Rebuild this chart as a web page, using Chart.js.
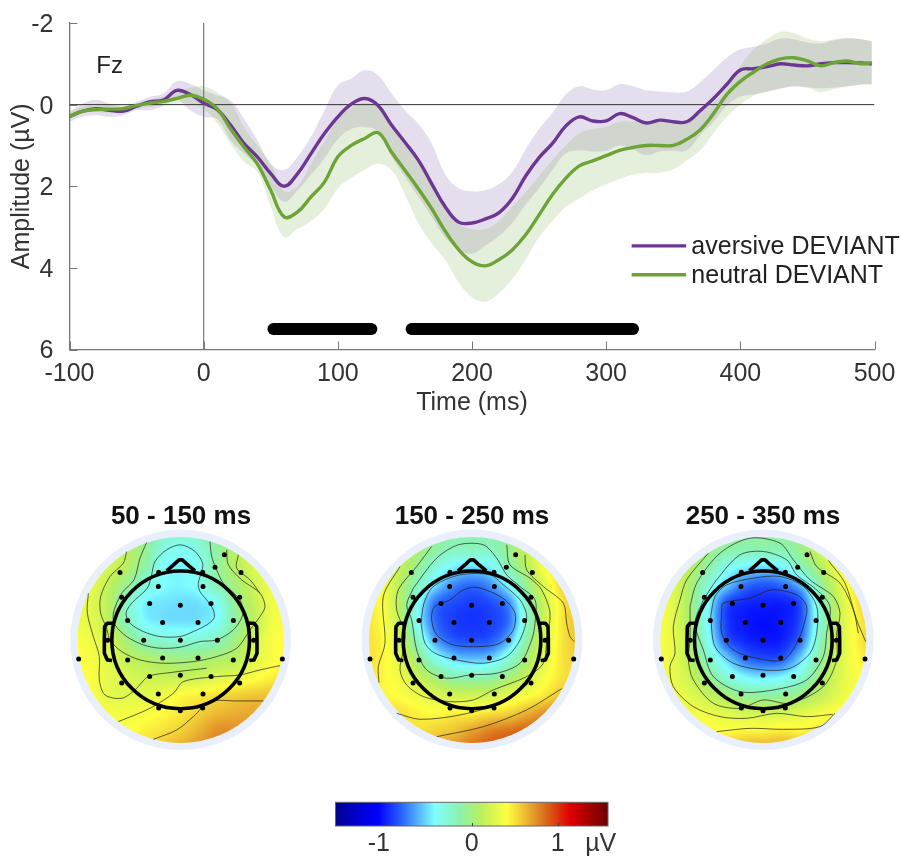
<!DOCTYPE html>
<html lang="en">
<head>
  <meta charset="UTF-8">
  <title>Fz deviant ERP</title>
  <script src="https://cdn.jsdelivr.net/npm/chart.js"></script>
  <style>
    html, body { margin: 0; padding: 0; background: #fff; }
    #page { position: relative; width: 902px; height: 856px; overflow: hidden; }
    canvas { position: absolute; }
  </style>
</head>
<body>
<div id="page">
  <canvas id="erpChart" width="902" height="418" style="left:0;top:0"></canvas>
  <canvas id="topo1" width="222" height="253" style="left:70px;top:498px"></canvas>
  <canvas id="topo2" width="222" height="253" style="left:361px;top:498px"></canvas>
  <canvas id="topo3" width="222" height="253" style="left:652px;top:498px"></canvas>
  <canvas id="colorbar" width="340" height="61" style="left:300px;top:795px"></canvas>
</div>

<script>
  // ---------- ERP data (uV) ----------
  var times = [-100,-90,-80,-70,-60,-50,-40,-30,-20,-10,0,
    10,20,30,40,50,60,70,80,90,100,
    110,120,130,140,150,160,170,180,190,200,
    210,220,230,240,250,260,270,280,290,300,
    310,320,330,340,350,360,370,380,390,400,
    410,420,430,440,450,460,470,480,490,498];

  var aversiveMean = [.29,.16,.10,.14,.16,.04,-.07,-.11,-.35,-.25,-.04,
    .12,.5,.95,1.28,1.69,2.0,1.69,1.2,.71,.3,
    -.01,-.15,.02,.5,.92,1.36,1.94,2.5,2.88,2.9,
    2.8,2.65,2.3,1.75,1.3,.95,.52,.3,.4,.4,
    .22,.32,.45,.38,.42,.42,.15,-.15,-.5,-.85,
    -.88,-.93,-1.0,-.97,-.95,-1.0,-1.03,-1.03,-1.02,-1.0];
  var aversiveUpper = [.17,-.03,-.12,-.02,.05,-.07,-.19,-.27,-.57,-.51,-.35,
    -.23,-.1,.34,.87,1.45,1.6,1.28,.79,.14,-.47,
    -.64,-.84,-.72,-.27,.14,.47,.96,1.7,2.05,2.12,
    2.1,1.95,1.65,1.1,.6,.2,-.25,-.45,-.37,-.35,
    -.5,-.45,-.35,-.32,-.3,-.32,-.55,-.85,-1.15,-1.35,
    -1.42,-1.5,-1.62,-1.6,-1.52,-1.5,-1.58,-1.62,-1.6,-1.55];
  var aversiveLower = [.42,.3,.26,.3,.26,.14,.14,.02,-.12,.14,.3,
    .35,.87,1.2,1.5,2.0,2.38,2.1,1.72,1.32,.85,
    .6,.55,.67,1.28,1.77,2.26,2.75,3.25,3.55,3.65,
    3.45,3.22,2.9,2.45,2.05,1.6,1.2,1.12,1.15,1.13,
    1.0,1.1,1.24,1.15,1.13,1.12,.75,.42,.02,-.2,
    -.25,-.32,-.4,-.45,-.42,-.4,-.42,-.45,-.5,-.5];

  var neutralMean = [.29,.16,.12,.11,.1,.02,-.04,-.08,-.15,-.23,-.13,
    .1,.59,1.04,1.45,2.1,2.75,2.63,2.26,1.9,1.28,
    1.0,.83,.69,1.16,1.61,2.06,2.55,3.1,3.55,3.85,
    3.95,3.8,3.56,3.19,2.7,2.2,1.8,1.5,1.38,1.25,
    1.12,1.05,1.0,1.0,1.0,.85,.62,.22,-.25,-.57,
    -.8,-1.0,-1.12,-1.15,-1.07,-.95,-1.03,-1.07,-1.0,-1.03];
  var neutralUpper = [.2,.05,.03,0,.02,-.03,-.12,-.2,-.3,-.42,-.45,
    -.3,-.05,.55,1.0,1.45,2.12,2.0,1.45,.9,.35,
    .08,-.05,.08,.55,1.0,1.4,1.95,2.5,2.9,3.05,
    3.05,2.85,2.5,2.15,1.75,1.35,1.0,.7,.6,.55,
    .42,.42,.42,.42,.42,.38,.18,-.05,-.4,-.95,
    -1.35,-1.6,-1.78,-1.75,-1.62,-1.55,-1.6,-1.63,-1.6,-1.55];
  var neutralLower = [.35,.2,.18,.2,.18,.1,.05,.02,-.02,-.02,.1,
    .45,.95,1.4,1.65,2.5,3.25,3.05,2.85,2.55,2.05,
    1.8,1.6,1.45,1.61,2.2,2.9,3.4,3.8,4.35,4.72,
    4.83,4.62,4.27,3.8,3.25,2.85,2.5,2.3,2.1,1.95,
    1.82,1.72,1.67,1.67,1.58,1.37,1.12,.7,.3,0,
    -.22,-.31,-.38,-.45,-.42,-.31,-.38,-.45,-.48,-.5];

  var sigWindows = [[52,125],[155,320]];
  var sigLevel = 5.5;
  var xTicks = [-100,0,100,200,300,400,500];
  var yTicks = [-2,0,2,4,6];
  var seriesNames = ['aversive DEVIANT','neutral DEVIANT'];

  // ---------- colour scale ----------
  var colorValues = [-1.585,-1.37,-1.085,-.79,-.43,-.135,.1,.41,.72,.87,1.14,1.585];
  var colorHex = ['#00008f','#0000c8','#0000ff','#2d6ffc','#80ffff','#8cf2ac','#b8f060','#ffff40','#e49a2c','#d86818','#e00000','#6b0000'];
  var colorbarTicks = [-1,0,1,1.5];

  // ---------- topographies: values on a 13 x 13 grid, top row first ----------
  var map1Values = [
    [.3,.3,.25,.1,-.05,-.2,-.25,-.2,-.05,.1,.25,.3,.3],
    [.35,.35,.3,.12,-.05,-.3,-.38,-.3,-.1,.1,.22,.3,.35],
    [.35,.35,.25,.1,-.1,-.4,-.45,-.38,-.1,.1,.25,.35,.4],
    [.35,.33,.15,-.05,-.28,-.42,-.45,-.38,-.15,.02,.2,.35,.4],
    [.35,.3,.12,-.2,-.45,-.49,-.51,-.5,-.4,-.05,.15,.35,.4],
    [.35,.3,.15,-.18,-.42,-.49,-.5,-.49,-.4,-.1,.12,.35,.4],
    [.4,.35,.25,.02,-.2,-.28,-.3,-.28,-.2,0,.2,.38,.42],
    [.42,.38,.28,.15,.08,.02,-.02,0,.05,.1,.27,.38,.45],
    [.45,.4,.3,.25,.2,.17,.15,.18,.25,.3,.38,.45,.5],
    [.45,.4,.3,.28,.3,.33,.42,.45,.5,.55,.58,.6,.6],
    [.45,.4,.38,.36,.38,.42,.48,.55,.62,.66,.68,.7,.7],
    [.45,.42,.4,.4,.45,.5,.56,.65,.75,.75,.7,.7,.7],
    [.45,.42,.4,.42,.5,.58,.66,.74,.8,.8,.75,.7,.7]
  ];
  var map2Values = [
    [.4,.35,.2,.05,-.08,-.15,-.15,-.15,-.05,.15,.3,.4,.45],
    [.45,.4,.18,.05,-.1,-.2,-.2,-.2,-.05,.18,.35,.5,.55],
    [.5,.35,.18,-.05,-.3,-.45,-.5,-.45,-.15,.1,.4,.55,.6],
    [.5,.4,.12,-.2,-.5,-.72,-.8,-.7,-.42,-.05,.3,.55,.6],
    [.5,.4,.12,-.35,-.78,-.88,-.92,-.88,-.72,-.2,.2,.5,.6],
    [.5,.42,.15,-.38,-.8,-.92,-.95,-.92,-.78,-.25,.2,.5,.6],
    [.5,.45,.22,-.2,-.66,-.85,-.88,-.85,-.62,-.12,.25,.5,.6],
    [.5,.45,.28,0,-.35,-.55,-.6,-.55,-.3,.02,.3,.5,.55],
    [.5,.45,.35,.18,0,-.15,-.18,-.15,0,.18,.38,.5,.55],
    [.5,.45,.4,.33,.25,.2,.2,.2,.3,.38,.48,.6,.6],
    [.5,.48,.5,.45,.42,.45,.45,.5,.55,.65,.75,.8,.8],
    [.5,.5,.5,.5,.55,.6,.7,.8,.85,.9,.9,.85,.85],
    [.5,.5,.5,.55,.65,.75,.85,.9,.95,.95,.9,.85,.85]
  ];
  var map3Values = [
    [.3,.25,.15,0,-.1,-.12,-.12,-.12,-.03,.15,.3,.4,.45],
    [.35,.28,.15,0,-.1,-.15,-.15,-.15,-.05,.2,.38,.5,.55],
    [.38,.25,.1,-.12,-.35,-.45,-.5,-.45,-.2,.05,.35,.55,.6],
    [.4,.28,.05,-.3,-.55,-.78,-.85,-.8,-.6,-.15,.22,.5,.6],
    [.4,.3,.02,-.42,-.88,-.98,-1.0,-1.0,-.88,-.3,.12,.45,.6],
    [.4,.3,.03,-.45,-.92,-1.02,-1.05,-1.02,-.88,-.32,.12,.42,.55],
    [.4,.32,.08,-.38,-.85,-.98,-1.02,-1.0,-.8,-.25,.15,.42,.55],
    [.4,.32,.1,-.25,-.55,-.8,-.88,-.85,-.55,-.15,.18,.4,.5],
    [.4,.33,.18,-.05,-.3,-.45,-.5,-.45,-.3,-.02,.22,.38,.45],
    [.4,.35,.28,.15,.02,-.1,-.12,-.1,-.02,.12,.28,.4,.45],
    [.45,.4,.38,.33,.28,.22,.22,.22,.28,.35,.42,.5,.5],
    [.5,.45,.45,.42,.42,.45,.45,.48,.45,.48,.5,.55,.55],
    [.5,.5,.5,.55,.6,.65,.68,.68,.65,.6,.6,.6,.6]
  ];

  // electrode positions relative to the head centre
  var electrodeX = [131,103,181,-182,-66,66,-67,67,-177,177,-93,-1,91,-159,-54,52,158,-111,-1,110,-219,219,-159,-54,52,158,-306,305,-93,-1,91,-177,177,-67,67,-66,-1,66];
  var electrodeY = [-255,-218,-202,-202,-203,-203,-160,-160,-128,-128,-109,-104,-109,-58,-52,-52,-58,1,1,1,1,1,60,54,54,60,57,57,110,106,110,129,129,162,162,204,212,204];

  // contour lines
  var map1Contours = [
    [[275,225],[285,185],[320,150],[362,135],[405,155],[428,190],[425,215],[415,250],[420,275],[440,300],[460,330],[462,355],[440,375],[400,395],[360,410],[300,410],[250,395],[210,370],[198,340],[215,310],[262,265],[275,225]],
    [[260,128],[240,175],[222,240],[185,280],[160,340],[165,375],[200,410],[250,435],[300,445],[360,442],[420,425],[470,420],[520,390],[548,345],[540,300],[490,250],[470,210],[455,170],[450,125]],
    [[200,155],[190,190],[150,230],[122,290],[122,340],[140,385],[150,420],[185,455],[240,480],[310,490],[400,485],[470,470],[530,445],[570,390],[600,350],[615,320],[600,280],[545,240],[505,195],[500,150]],
    [[85,280],[82,340],[100,410],[118,470],[118,540],[135,585],[185,595],[225,570],[265,530],[330,518],[440,505]],
    [[535,165],[530,205],[570,240],[600,280]],
    [[175,665],[270,625],[340,580],[370,545],[470,530],[540,525],[600,510],[660,497]],
    [[280,718],[350,690],[400,650],[450,605],[530,603],[610,603]]
  ];
  var map2Contours = [
    [[270,310],[300,300],[340,270],[375,262],[420,275],[465,300],[495,340],[490,390],[450,430],[390,440],[310,435],[260,405],[245,360],[250,325],[270,310]],
    [[213,370],[222,310],[250,260],[330,225],[420,225],[460,255],[510,300],[530,350],[510,420],[470,470],[400,490],[320,480],[255,460],[225,430],[213,370]],
    [[190,265],[260,175],[325,135],[400,135],[440,175],[470,225],[510,260],[555,300],[555,370],[545,420],[510,490],[440,520],[360,525],[290,535],[230,510],[200,450],[185,360],[170,315],[190,265]],
    [[245,140],[200,200],[145,270],[140,330],[165,400],[160,450],[150,510],[170,555],[220,590],[300,605],[370,600],[430,570],[530,530],[580,490],[590,420],[600,340],[575,270],[540,235],[480,195],[470,135]],
    [[150,200],[100,290],[105,430],[85,500],[87,548]],
    [[525,165],[530,210],[580,260],[640,310],[650,370],[660,410],[673,425]],
    [[140,640],[210,658],[330,645],[450,610],[535,550]],
    [[260,710],[400,680],[530,630],[635,566]]
  ];
  var map3Contours = [
    [[245,340],[250,310],[330,295],[395,270],[470,285],[500,320],[490,380],[470,430],[430,480],[350,475],[280,450],[245,400],[245,340]],
    [[212,350],[225,290],[260,255],[340,235],[420,230],[490,260],[530,320],[530,400],[510,460],[450,505],[370,510],[280,490],[225,440],[212,350]],
    [[190,300],[230,240],[300,165],[370,155],[440,180],[470,225],[530,270],[570,320],[560,400],[550,470],[500,540],[400,570],[300,575],[220,530],[190,450],[165,370],[190,300]],
    [[150,320],[170,250],[240,160],[330,115],[420,130],[460,180],[510,240],[580,290],[600,340],[590,400],[590,480],[550,560],[450,610],[370,600],[300,625],[220,610],[160,540],[145,480],[150,420],[150,320]],
    [[205,160],[140,240],[120,300],[100,380],[105,460],[90,500],[100,560],[160,620],[240,650],[320,655],[410,640],[500,650],[578,643]],
    [[230,695],[330,685],[430,688],[540,680],[585,640]],
    [[510,155],[530,200],[600,250],[640,330],[655,400]],
    [[565,182],[615,250],[650,360],[677,425]]
  ];

  var FONT = '"Liberation Sans", Arial, sans-serif';
  var PURPLE = '#6c3793';
  var GREEN = '#6ca536';

  function toPoints(values) {
    return values.map(function (v, i) { return { x: times[i], y: v }; });
  }

  function band(values, color, fill) {
    return { data: toPoints(values), borderWidth: 0, pointRadius: 0, backgroundColor: color, fill: fill, tension: .4 };
  }

  function curve(values, color) {
    return { data: toPoints(values), borderColor: color, borderWidth: 3.4, pointRadius: 0, fill: false, tension: .4 };
  }

  function segment(x0, y0, x1, y1, color, width, cap) {
    return { data: [{ x: x0, y: y0 }, { x: x1, y: y1 }], borderColor: color, borderWidth: width, pointRadius: 0, fill: false, borderCapStyle: cap || 'butt' };
  }

  // MATLAB style ticks pointing into the plot
  var inwardTicks = {
    id: 'inwardTicks',
    afterDraw: function (chart, args, opts) {
      var ctx = chart.ctx, a = chart.chartArea;
      ctx.save();
      ctx.strokeStyle = opts.color;
      ctx.lineWidth = 1;
      chart.scales.x.ticks.forEach(function (t) {
        if (opts.skip && opts.skip.indexOf(t.value) >= 0) return;
        var px = Math.round(chart.scales.x.getPixelForValue(t.value)) + .5;
        ctx.beginPath(); ctx.moveTo(px, a.bottom); ctx.lineTo(px, a.bottom - opts.length); ctx.stroke();
      });
      if (chart.scales.y.options.display) {
        chart.scales.y.ticks.forEach(function (t) {
          var py = Math.round(chart.scales.y.getPixelForValue(t.value)) + .5;
          ctx.beginPath(); ctx.moveTo(a.left, py); ctx.lineTo(a.left + opts.length, py); ctx.stroke();
        });
      }
      ctx.restore();
    }
  };

  // Fz label and legend text, placed in data coordinates
  var erpLabels = {
    id: 'erpLabels',
    afterDatasetsDraw: function (chart) {
      var ctx = chart.ctx, x = chart.scales.x, y = chart.scales.y;
      ctx.save();
      ctx.textBaseline = 'middle';
      ctx.fillStyle = '#222';
      ctx.font = '24px ' + FONT;
      ctx.fillText('Fz', x.getPixelForValue(-80), y.getPixelForValue(-.93));
      ctx.font = '25px ' + FONT;
      ctx.fillText(seriesNames[0], x.getPixelForValue(363.5), y.getPixelForValue(3.5));
      ctx.fillText(seriesNames[1], x.getPixelForValue(363.5), y.getPixelForValue(4.2));
      ctx.restore();
    }
  };

  new Chart(document.getElementById('erpChart'), {
    type: 'line',
    data: {
      datasets: [
        segment(sigWindows[0][0], sigLevel, sigWindows[0][1], sigLevel, '#000', 12, 'round'),
        segment(sigWindows[1][0], sigLevel, sigWindows[1][1], sigLevel, '#000', 12, 'round'),
        segment(319, 3.46, 359.6, 3.46, PURPLE, 3.4),
        segment(319, 4.17, 359.6, 4.17, GREEN, 3.4),
        curve(neutralMean, GREEN),
        curve(aversiveMean, PURPLE),
        segment(-100, 0, 500, 0, '#333', 1),
        segment(0, -2, 0, 6, '#777', 1.2),
        band(neutralUpper, 'rgba(110,170,60,.18)', '+1'),
        band(neutralLower, 'rgba(110,170,60,0)', false),
        band(aversiveUpper, 'rgba(118,78,165,.19)', '+1'),
        band(aversiveLower, 'rgba(118,78,165,0)', false)
      ]
    },
    options: {
      responsive: false,
      animation: false,
      layout: { autoPadding: false, padding: { top: 23, right: 27.5, left: 0, bottom: 0 } },
      plugins: {
        legend: { display: false },
        tooltip: { enabled: false },
        inwardTicks: { color: '#777', length: 8 }
      },
      scales: {
        x: {
          type: 'linear', min: -100, max: 500,
          afterBuildTicks: function (s) { s.ticks = xTicks.map(function (v) { return { value: v }; }); },
          afterFit: function (s) { s.height = 68.5; },
          grid: { display: false },
          border: { color: '#777', width: 1.3 },
          ticks: { color: '#333', font: { family: FONT, size: 25 }, maxRotation: 0, padding: 2, autoSkip: false },
          title: { display: true, text: 'Time (ms)', color: '#333', font: { family: FONT, size: 25 }, padding: 0 }
        },
        y: {
          type: 'linear', min: -2, max: 6, reverse: true,
          afterBuildTicks: function (s) { s.ticks = yTicks.map(function (v) { return { value: v }; }); },
          afterFit: function (s) { s.width = 69.5; },
          grid: { display: false },
          border: { color: '#777', width: 1.3 },
          ticks: { color: '#333', font: { family: FONT, size: 25 }, padding: 8, autoSkip: false, labelOffset: 2 },
          title: { display: true, text: 'Amplitude (µV)', color: '#333', font: { family: FONT, size: 25 }, padding: { top: 7, bottom: 0 } }
        }
      }
    },
    plugins: [inwardTicks, erpLabels]
  });

  // ---------- colour helpers ----------
  function hexToRgb(h) {
    return [parseInt(h.slice(1, 3), 16), parseInt(h.slice(3, 5), 16), parseInt(h.slice(5, 7), 16)];
  }
  var colorRgb = colorHex.map(hexToRgb);

  function valueToRgb(v) {
    var n = colorValues.length;
    if (v <= colorValues[0]) return colorRgb[0];
    if (v >= colorValues[n - 1]) return colorRgb[n - 1];
    var i = 1;
    while (colorValues[i] < v) i++;
    var f = (v - colorValues[i - 1]) / (colorValues[i] - colorValues[i - 1]);
    return [0, 1, 2].map(function (k) { return colorRgb[i - 1][k] + f * (colorRgb[i][k] - colorRgb[i - 1][k]); });
  }

  function catmull(a, b, c, d, t) {
    return b + .5 * t * (c - a + t * (2 * a - 5 * b + 4 * c - d + t * (3 * (b - c) + d - a)));
  }

  function sampleGrid(g, col, row) {
    var n = g.length;
    var c0 = Math.max(0, Math.min(n - 2, Math.floor(col)));
    var r0 = Math.max(0, Math.min(n - 2, Math.floor(row)));
    var tc = col - c0, tr = row - r0, rows = [];
    for (var r = r0 - 1; r <= r0 + 2; r++) {
      var R = g[Math.max(0, Math.min(n - 1, r))];
      rows.push(catmull(R[Math.max(0, c0 - 1)], R[c0], R[c0 + 1], R[Math.min(n - 1, c0 + 2)], tc));
    }
    return catmull(rows[0], rows[1], rows[2], rows[3], tr);
  }

  var GRID_STEP = 55, GRID_HALF = 330, CENTRE_Y = 420;
  var noseX = [-42,-18,-5,5,18,43], noseY = [-207,-228,-240,-240,-228,-207];
  var earX = [-204,-220,-228,-229,-229,-220,-206], earY = [-50,-50,-40,0,40,60,62];

  // heat disc under the datasets, head outline over them
  var topoPaint = {
    id: 'topoPaint',
    beforeDatasetsDraw: function (chart, args, opts) {
      var ctx = chart.ctx, x = chart.scales.x, y = chart.scales.y, a = chart.chartArea;
      var cx = x.getPixelForValue(opts.centre), cy = y.getPixelForValue(CENTRE_Y);
      var unit = x.getPixelForValue(opts.centre + 100) - cx;
      ctx.save();
      ctx.fillStyle = '#e9f0fc';
      ctx.beginPath(); ctx.arc(cx, cy, 3.31 * unit, 0, Math.PI * 2); ctx.fill();

      var w = Math.ceil(a.right - a.left), h = Math.ceil(a.bottom - a.top);
      var off = document.createElement('canvas');
      off.width = w; off.height = h;
      var octx = off.getContext('2d'), img = octx.createImageData(w, h);
      for (var j = 0; j < h; j++) {
        for (var i = 0; i < w; i++) {
          var vx = x.getValueForPixel(a.left + i + .5), vy = y.getValueForPixel(a.top + j + .5);
          var col = (vx - opts.centre + GRID_HALF) / GRID_STEP, row = (vy - CENTRE_Y + GRID_HALF) / GRID_STEP;
          var rgb = valueToRgb(sampleGrid(opts.values, col, row));
          var p = (j * w + i) * 4;
          img.data[p] = rgb[0]; img.data[p + 1] = rgb[1]; img.data[p + 2] = rgb[2]; img.data[p + 3] = 255;
        }
      }
      octx.putImageData(img, 0, 0);
      ctx.beginPath(); ctx.arc(cx, cy, 3.09 * unit, 0, Math.PI * 2); ctx.clip();
      ctx.drawImage(off, a.left, a.top);
      ctx.restore();
    },
    afterDatasetsDraw: function (chart, args, opts) {
      var ctx = chart.ctx, x = chart.scales.x, y = chart.scales.y;
      var cx = x.getPixelForValue(opts.centre), cy = y.getPixelForValue(CENTRE_Y);
      var unit = x.getPixelForValue(opts.centre + 100) - cx;
      ctx.save();
      ctx.strokeStyle = '#000';
      ctx.lineWidth = 3.6;
      ctx.lineJoin = 'round';
      ctx.beginPath(); ctx.arc(cx, cy, 2.065 * unit, 0, Math.PI * 2); ctx.stroke();
      function path(xs, ys, flip) {
        ctx.beginPath();
        xs.forEach(function (v, i) {
          var px = cx + (flip ? -v : v) * unit / 100, py = cy + ys[i] * unit / 100;
          if (i) ctx.lineTo(px, py); else ctx.moveTo(px, py);
        });
        ctx.stroke();
      }
      path(noseX, noseY);
      path(earX, earY);
      path(earX, earY, true);
      ctx.restore();
    }
  };

  function drawTopo(id, title, xMin, centre, values, contours) {
    var datasets = [{
      data: electrodeX.map(function (v, i) { return { x: centre + v, y: CENTRE_Y + electrodeY[i] }; }),
      pointRadius: 2.5, pointBackgroundColor: '#000', pointBorderWidth: 0, showLine: false
    }];
    contours.forEach(function (c) {
      datasets.push({
        data: c.map(function (p) { return { x: p[0], y: p[1] }; }),
        showLine: true, borderColor: 'rgba(30,30,30,.7)', borderWidth: 1, pointRadius: 0, tension: .3, fill: false
      });
    });
    new Chart(document.getElementById(id), {
      type: 'scatter',
      data: { datasets: datasets },
      options: {
        responsive: false,
        animation: false,
        layout: { autoPadding: false, padding: 0 },
        plugins: {
          legend: { display: false },
          tooltip: { enabled: false },
          title: { display: true, text: title, color: '#111', font: { family: FONT, size: 26, weight: 'bold' }, padding: { top: 3, bottom: -3 } },
          topoPaint: { centre: centre, values: values }
        },
        scales: {
          x: { type: 'linear', display: false, min: xMin, max: xMin + 666 },
          y: { type: 'linear', display: false, min: 88.2, max: 753, reverse: true }
        }
      },
      plugins: [topoPaint]
    });
  }

  drawTopo('topo1', '50 - 150 ms', 30, 362, map1Values, map1Contours);
  drawTopo('topo2', '150 - 250 ms', 33, 366, map2Values, map2Contours);
  drawTopo('topo3', '250 - 350 ms', 36, 370, map3Values, map3Contours);

  // ---------- colour bar ----------
  var colorbarFill = {
    id: 'colorbarFill',
    beforeDatasetsDraw: function (chart) {
      var ctx = chart.ctx, a = chart.chartArea, x = chart.scales.x;
      var g = ctx.createLinearGradient(a.left, 0, a.right, 0);
      colorValues.forEach(function (v, i) {
        var f = (x.getPixelForValue(v) - a.left) / (a.right - a.left);
        g.addColorStop(Math.max(0, Math.min(1, f)), colorHex[i]);
      });
      ctx.save();
      ctx.fillStyle = g;
      ctx.fillRect(a.left, a.top, a.right - a.left, a.bottom - a.top);
      ctx.strokeStyle = '#666';
      ctx.lineWidth = 1;
      ctx.strokeRect(a.left, a.top, a.right - a.left, a.bottom - a.top);
      ctx.restore();
    }
  };

  new Chart(document.getElementById('colorbar'), {
    type: 'scatter',
    data: { datasets: [{ data: [], pointRadius: 0 }] },
    options: {
      responsive: false,
      animation: false,
      layout: { autoPadding: false, padding: { left: 35.5, right: 32, top: 7.3, bottom: 0 } },
      plugins: {
        legend: { display: false },
        tooltip: { enabled: false },
        inwardTicks: { color: '#444', length: 3, skip: [1.5] }
      },
      scales: {
        x: {
          type: 'linear', min: -1.584, max: 1.585,
          afterBuildTicks: function (s) { s.ticks = colorbarTicks.map(function (v) { return { value: v }; }); },
          afterFit: function (s) { s.height = 30; },
          grid: { display: false, drawTicks: false },
          border: { display: false },
          ticks: {
            color: '#333', font: { family: FONT, size: 25 }, padding: 3, maxRotation: 0, autoSkip: false,
            callback: function (v) { return v === 1.5 ? 'µV' : (v === -1 ? '-1  ' : v); }
          }
        },
        y: { type: 'linear', display: false, min: 0, max: 1 }
      }
    },
    plugins: [colorbarFill, inwardTicks]
  });
</script>
</body>
</html>
